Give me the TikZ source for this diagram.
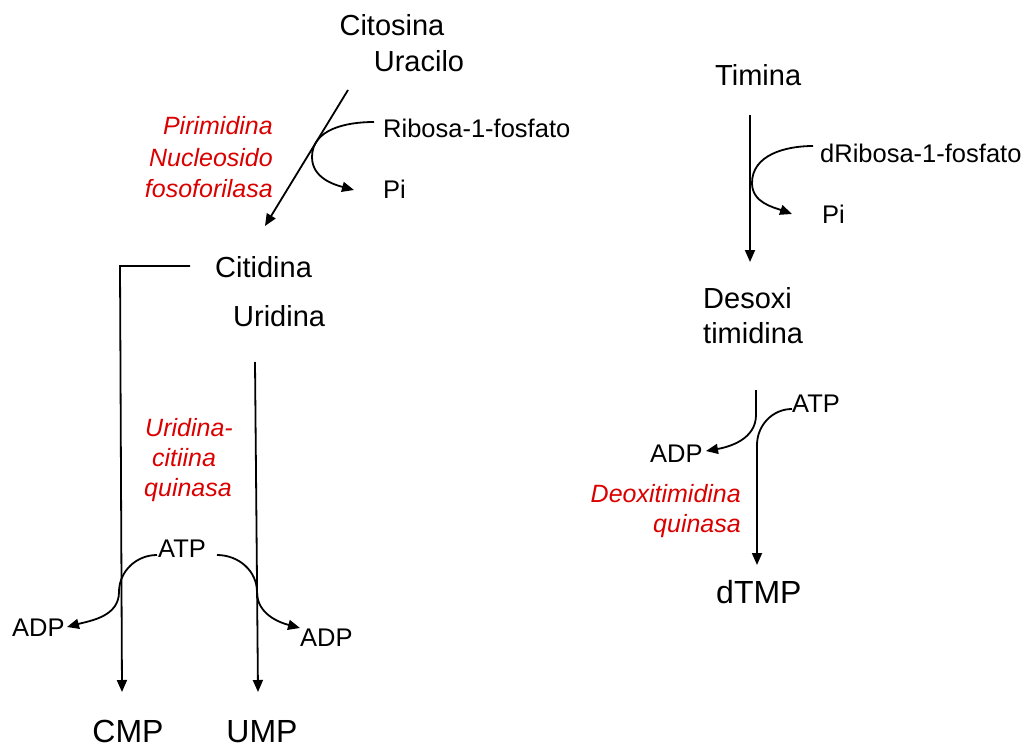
\documentclass[tikz,border=0pt]{standalone}
\usepackage{fontspec}
\setmainfont{Liberation Sans}
\usetikzlibrary{arrows.meta}
\definecolor{enzred}{RGB}{218,0,0}
\begin{document}
\begin{tikzpicture}[x=1pt,y=-1pt,
  lbl/.style={inner sep=0pt, text height=18.4pt, text depth=0pt, font=\fontsize{25.5}{30}\selectfont},
  mid/.style={inner sep=0pt, text height=20.9pt, text depth=0pt, font=\fontsize{29}{34}\selectfont},
  big/.style={inner sep=0pt, text height=23pt, text depth=0pt, font=\fontsize{32}{38}\selectfont},
  enz/.style={inner sep=0pt, text height=18pt, text depth=0pt, text=enzred, font=\fontsize{25}{30}\selectfont\itshape},
  ln/.style={line width=1.8pt},
  arr/.style={line width=1.8pt, -{Triangle[length=12pt,width=10pt]}}
]
\useasboundingbox (0,0) rectangle (1025,749);

% ---- labels ----
\node[mid] (citosina) at (392,25) {Citosina};
\node[mid] (uracilo) at (419,61) {Uracilo};
\node[lbl, anchor=west] (ribosa) at (383,128) {Ribosa-1-fosfato};
\node[lbl, anchor=west] (pi1) at (383,189) {Pi};
\node[enz, anchor=east] (e1a) at (273,126) {Pirimidina};
\node[enz, anchor=east] (e1b) at (273,157) {Nucleosido};
\node[enz, anchor=east] (e1c) at (273,188) {fosoforilasa};
\node[mid, anchor=west] (citidina) at (215,267) {Citidina};
\node[mid, anchor=west] (uridina) at (233,316) {Uridina};
\node[enz] (e2a) at (189,427) {Uridina-};
\node[enz] (e2b) at (184,457) {citiina};
\node[enz] (e2c) at (188,487) {quinasa};
\node[lbl] (atp1) at (182,548) {ATP};
\node[lbl, anchor=west] (adp1) at (12,627) {ADP};
\node[lbl, anchor=west] (adp2) at (300,637) {ADP};
\node[big] (cmp) at (128,731) {CMP};
\node[big] (ump) at (262,731) {UMP};

\node[mid, anchor=west] (timina) at (715,75) {Timina};
\node[lbl, anchor=west] (dribosa) at (820,153) {dRibosa-1-fosfato};
\node[lbl, anchor=west] (pi2) at (822,214) {Pi};
\node[mid, anchor=west] (desoxi) at (703,298) {Desoxi};
\node[mid, anchor=west] (timidina) at (703,333) {timidina};
\node[lbl, anchor=west] (atp2) at (792,403) {ATP};
\node[lbl, anchor=west] (adp3) at (650,453) {ADP};
\node[enz, anchor=east] (e3a) at (741,493) {Deoxitimidina};
\node[enz, anchor=east] (e3b) at (741,523) {quinasa};
\node[big, anchor=west] (dtmp) at (716,592) {dTMP};

% ---- coordinates ----
\coordinate (p1s) at (348,90);
\coordinate (p1e) at (265,226);
\coordinate (r1s) at (374,122);
\coordinate (r1m) at (312,157);
\coordinate (r1e) at (354,190);
\coordinate (cL1) at (190,266);
\coordinate (cL2) at (120,266);
\coordinate (cL3) at (122,692);
\coordinate (u1) at (255,362);
\coordinate (u2) at (258,692);
\coordinate (a1s) at (157,555);
\coordinate (a1m) at (119,592);
\coordinate (a1e) at (67,627);
\coordinate (a2s) at (217,555);
\coordinate (a2m) at (257,592);
\coordinate (a2e) at (300,628);

\coordinate (t1) at (750,115);
\coordinate (t2) at (750,262);
\coordinate (d1s) at (813,146);
\coordinate (d1m) at (752,183);
\coordinate (d1e) at (792,214);
\coordinate (k1) at (756,390);
\coordinate (k2) at (756,415);
\coordinate (k3) at (706,451);
\coordinate (k4s) at (792,409);
\coordinate (k4m) at (757,445);
\coordinate (k5) at (757,565);

% ---- connectors ----
\draw[arr] (p1s) -- (p1e);
\draw[arr] (r1s) to[out=180,in=90] (r1m) to[out=-90,in=165] (r1e);
\draw[arr] (cL1) -- (cL2) -- (cL3);
\draw[arr] (u1) -- (u2);
\draw[arr] (a1s) to[out=180,in=90] (a1m) to[out=-90,in=15] (a1e);
\draw[arr] (a2s) to[out=0,in=90] (a2m) to[out=-90,in=165] (a2e);

\draw[arr] (t1) -- (t2);
\draw[arr] (d1s) to[out=180,in=90] (d1m) to[out=-90,in=160] (d1e);
\draw[arr] (k1) -- (k2) to[out=-90,in=10] (k3);
\draw[arr] (k4s) to[out=180,in=90] (k4m) -- (k5);
\end{tikzpicture}
\end{document}
